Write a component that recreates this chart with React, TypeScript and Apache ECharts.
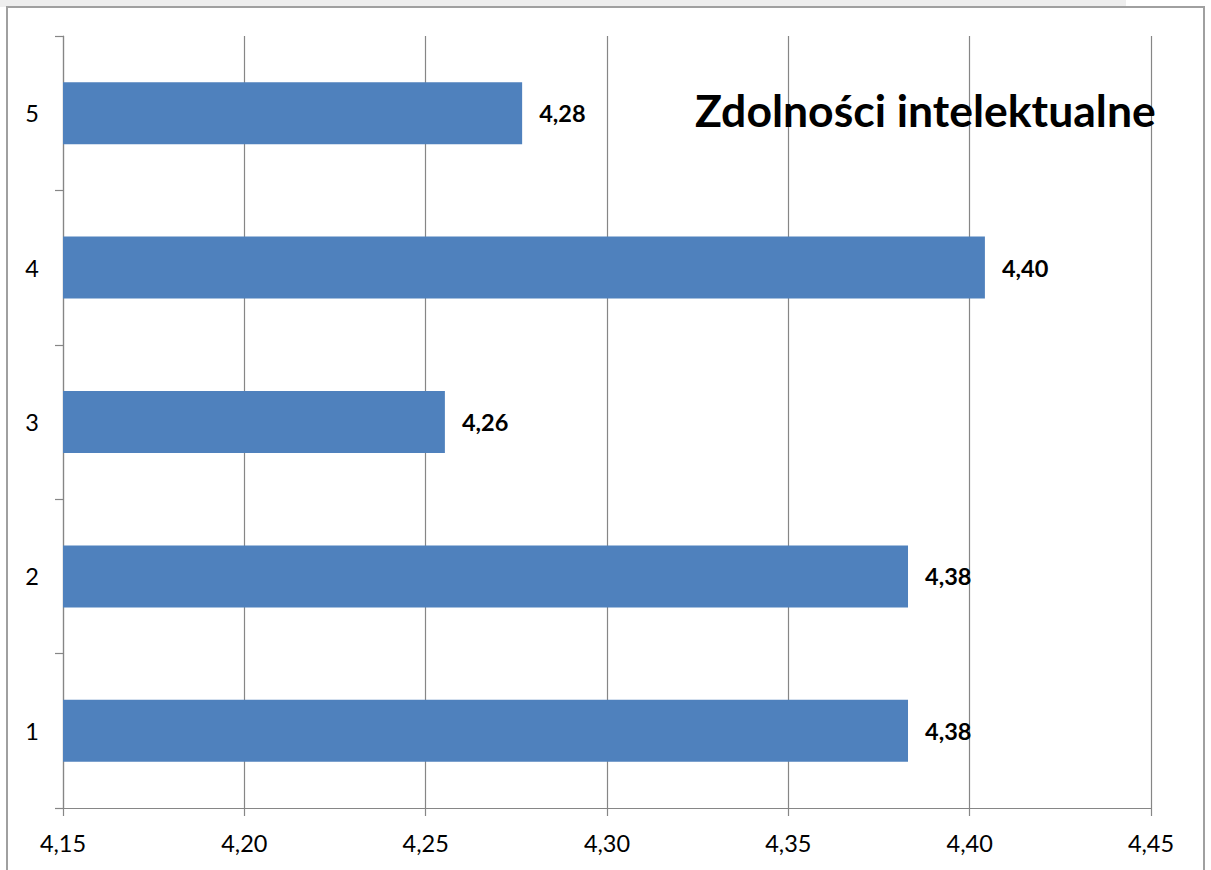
import React, { useEffect, useRef } from "react";
import * as echarts from "echarts";

const categories = ["1", "2", "3", "4", "5"];
const values = [4.383, 4.383, 4.2553, 4.4042, 4.2766];
const titleText = "Zdolności intelektualne";
const xMin = 4.15;
const xMax = 4.45;
const xStep = 0.05;

const FONT = "Lato, 'Open Sans', sans-serif";
const fmt = (v: number) => v.toFixed(2).replace(".", ",");

export default function App() {
  const ref = useRef<HTMLDivElement>(null);
  useEffect(() => {
    if (!ref.current) return;
    const chart = echarts.init(ref.current, undefined, { renderer: "svg" });
    chart.setOption({
      animation: false,
      backgroundColor: "#ffffff",
      textStyle: { fontFamily: FONT },
      graphic: [
        { type: "rect", shape: { x: 0, y: 0, width: 1126, height: 7 }, style: { fill: "#eeeeee" }, silent: true },
        { type: "rect", shape: { x: 7, y: 7, width: 1197, height: 880 }, style: { fill: "none", stroke: "#a0a0a0", lineWidth: 2 }, silent: true },
      ],
      title: {
        text: titleText,
        left: 695,
        top: 87,
        padding: 0,
        textStyle: { fontFamily: FONT, fontWeight: "bold", fontSize: 44.5, color: "#000" },
      },
      grid: { left: 63, right: 60, top: 36, bottom: 62, containLabel: false },
      xAxis: {
        type: "value",
        min: xMin,
        max: xMax,
        interval: xStep,
        axisLine: { show: true, lineStyle: { color: "#868686", width: 1.2 } },
        axisTick: { show: true, length: 8, inside: false, lineStyle: { color: "#868686", width: 1.2 } },
        splitLine: { show: true, lineStyle: { color: "#868686", width: 1.2 } },
        axisLabel: { formatter: (v: number) => fmt(v), color: "#000", fontSize: 23.5, margin: 23, fontFamily: FONT },
      },
      yAxis: {
        type: "category",
        data: categories,
        axisLine: { show: true, lineStyle: { color: "#868686", width: 1.2 } },
        axisTick: { show: true, length: 8, lineStyle: { color: "#868686", width: 1.2 } },
        splitLine: { show: false },
        axisLabel: { color: "#000", fontSize: 23.5, margin: 24, fontFamily: FONT },
      },
      series: [
        {
          type: "bar",
          data: values,
          barWidth: 62,
          itemStyle: { color: "#4f81bd" },
          label: {
            show: true,
            position: "right",
            distance: 17,
            formatter: (p: any) => fmt(p.value),
            color: "#000",
            fontWeight: "bold",
            fontSize: 23.5,
            fontFamily: FONT,
          },
        },
      ],
    });
    return () => chart.dispose();
  }, []);
  return (
    <div
      ref={ref}
      style={{ position: "fixed", left: 0, top: 0, width: 1211, height: 870 }}
    />
  );
}
